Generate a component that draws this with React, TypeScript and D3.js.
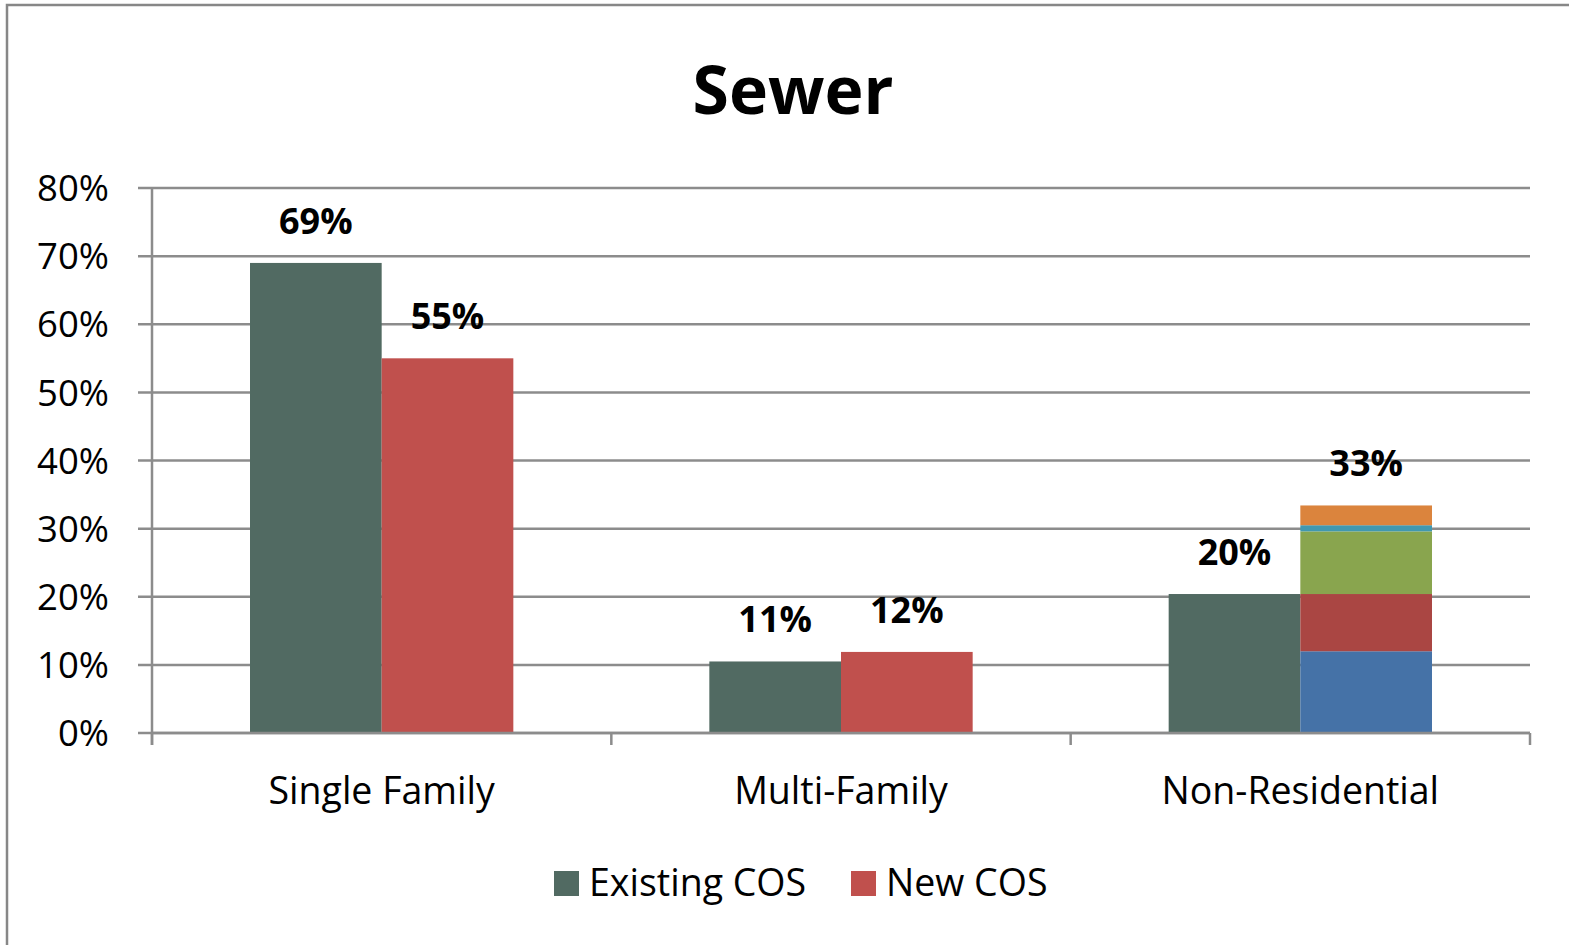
import React, { useRef, useEffect } from 'react';
import * as d3 from 'd3';

const categories = ['Single Family', 'Multi-Family', 'Non-Residential'];
const existingCos = [0.69, 0.105, 0.204];
const newCos = [0.55, 0.119, 0.334];
// Non-Residential new COS is split into sub-classes (bottom to top)
const nonResParts = [0.12, 0.084, 0.092, 0.009, 0.029];
const nonResColors = ['#4572A7', '#AA4643', '#89A54E', '#4198AF', '#DB843D'];
const existingLabels = ['69%', '11%', '20%'];
const newLabels = ['55%', '12%', '33%'];
const yTicks = [0, 0.1, 0.2, 0.3, 0.4, 0.5, 0.6, 0.7, 0.8];
const seriesNames = ['Existing COS', 'New COS'];
const seriesColors = ['#516A62', '#C0504D'];

const W = 1569;
const H = 945;
const FONT = '"Open Sans", Lato, sans-serif';

const App: React.FC = () => {
  const svgRef = useRef<SVGSVGElement>(null);

  useEffect(() => {
    if (!svgRef.current) return;
    const svg = d3.select(svgRef.current);
    svg.selectAll('*').remove();

    const plot = { left: 152, right: 1530, top: 188, bottom: 733 };

    // outer chart border (runs off right/bottom edge)
    svg.append('rect')
      .attr('x', 7).attr('y', 5)
      .attr('width', W + 20).attr('height', H + 20)
      .attr('fill', 'white')
      .attr('stroke', '#878787')
      .attr('stroke-width', 2.5);

    svg.append('text')
      .attr('x', 793).attr('y', 114)
      .attr('text-anchor', 'middle')
      .attr('font-family', FONT)
      .attr('font-weight', 'bold')
      .attr('font-size', 66)
      .text('Sewer');

    const x = d3.scaleBand<string>()
      .domain(categories)
      .range([plot.left, plot.right])
      .paddingInner(0)
      .paddingOuter(0);

    const inner = d3.scaleBand<string>()
      .domain(seriesNames)
      .range([98, x.bandwidth() - 98]);

    const y = d3.scaleLinear().domain([0, 0.8]).range([plot.bottom, plot.top]);

    const g = svg.append('g');

    // gridlines
    g.selectAll('.grid')
      .data(yTicks)
      .enter()
      .append('line')
      .attr('x1', plot.left - 14)
      .attr('x2', plot.right)
      .attr('y1', d => y(d))
      .attr('y2', d => y(d))
      .attr('stroke', '#8C8C8C')
      .attr('stroke-width', 2.5);

    // y-axis tick labels
    g.selectAll('.ytick')
      .data(yTicks)
      .enter()
      .append('text')
      .attr('x', 109)
      .attr('y', d => y(d))
      .attr('dy', '0.36em')
      .attr('text-anchor', 'end')
      .attr('font-family', FONT)
      .attr('font-size', 36.5)
      .text(d => `${Math.round(d * 100)}%`);

    // bars: existing
    categories.forEach((c, i) => {
      const x0 = (x(c) as number) + (inner('Existing COS') as number);
      g.append('rect')
        .attr('x', x0)
        .attr('y', y(existingCos[i]))
        .attr('width', inner.bandwidth())
        .attr('height', y(0) - y(existingCos[i]))
        .attr('fill', seriesColors[0]);
      g.append('text')
        .attr('x', x0 + inner.bandwidth() / 2)
        .attr('y', y(existingCos[i]) - 29)
        .attr('text-anchor', 'middle')
        .attr('font-family', FONT)
        .attr('font-weight', 'bold')
        .attr('font-size', 36)
        .text(existingLabels[i]);
    });

    // bars: new
    categories.forEach((c, i) => {
      const x1 = (x(c) as number) + (inner('New COS') as number);
      if (c === 'Non-Residential') {
        let acc = 0;
        nonResParts.forEach((p, k) => {
          g.append('rect')
            .attr('x', x1)
            .attr('y', y(acc + p))
            .attr('width', inner.bandwidth())
            .attr('height', y(acc) - y(acc + p))
            .attr('fill', nonResColors[k]);
          acc += p;
        });
      } else {
        g.append('rect')
          .attr('x', x1)
          .attr('y', y(newCos[i]))
          .attr('width', inner.bandwidth())
          .attr('height', y(0) - y(newCos[i]))
          .attr('fill', seriesColors[1]);
      }
      g.append('text')
        .attr('x', x1 + inner.bandwidth() / 2)
        .attr('y', y(newCos[i]) - 29)
        .attr('text-anchor', 'middle')
        .attr('font-family', FONT)
        .attr('font-weight', 'bold')
        .attr('font-size', 36)
        .text(newLabels[i]);
    });

    // axes lines
    g.append('line')
      .attr('x1', plot.left).attr('x2', plot.left)
      .attr('y1', plot.top).attr('y2', plot.bottom + 12)
      .attr('stroke', '#8C8C8C').attr('stroke-width', 2.5);
    g.append('line')
      .attr('x1', plot.left).attr('x2', plot.right)
      .attr('y1', plot.bottom).attr('y2', plot.bottom)
      .attr('stroke', '#8C8C8C').attr('stroke-width', 2.5);

    const catTicks = categories.map(c => x(c) as number).concat([plot.right]);
    g.selectAll('.ctick')
      .data(catTicks)
      .enter()
      .append('line')
      .attr('x1', d => d).attr('x2', d => d)
      .attr('y1', plot.bottom).attr('y2', plot.bottom + 12)
      .attr('stroke', '#8C8C8C').attr('stroke-width', 2.5);

    g.selectAll('.clabel')
      .data(categories)
      .enter()
      .append('text')
      .attr('x', d => (x(d) as number) + x.bandwidth() / 2)
      .attr('y', 804)
      .attr('text-anchor', 'middle')
      .attr('font-family', FONT)
      .attr('font-size', 37.5)
      .text(d => d);

    // legend
    const legendX = [554, 851];
    seriesNames.forEach((s, i) => {
      svg.append('rect')
        .attr('x', legendX[i]).attr('y', 871)
        .attr('width', 25).attr('height', 25)
        .attr('fill', seriesColors[i]);
      svg.append('text')
        .attr('x', legendX[i] + 35).attr('y', 896)
        .attr('font-family', FONT)
        .attr('font-size', 37.5)
        .text(s);
    });
  }, []);

  return (
    <svg
      ref={svgRef}
      width={W}
      height={H}
      style={{ position: 'absolute', left: 0, top: 0, display: 'block', background: 'white' }}
    />
  );
};

export default App;
